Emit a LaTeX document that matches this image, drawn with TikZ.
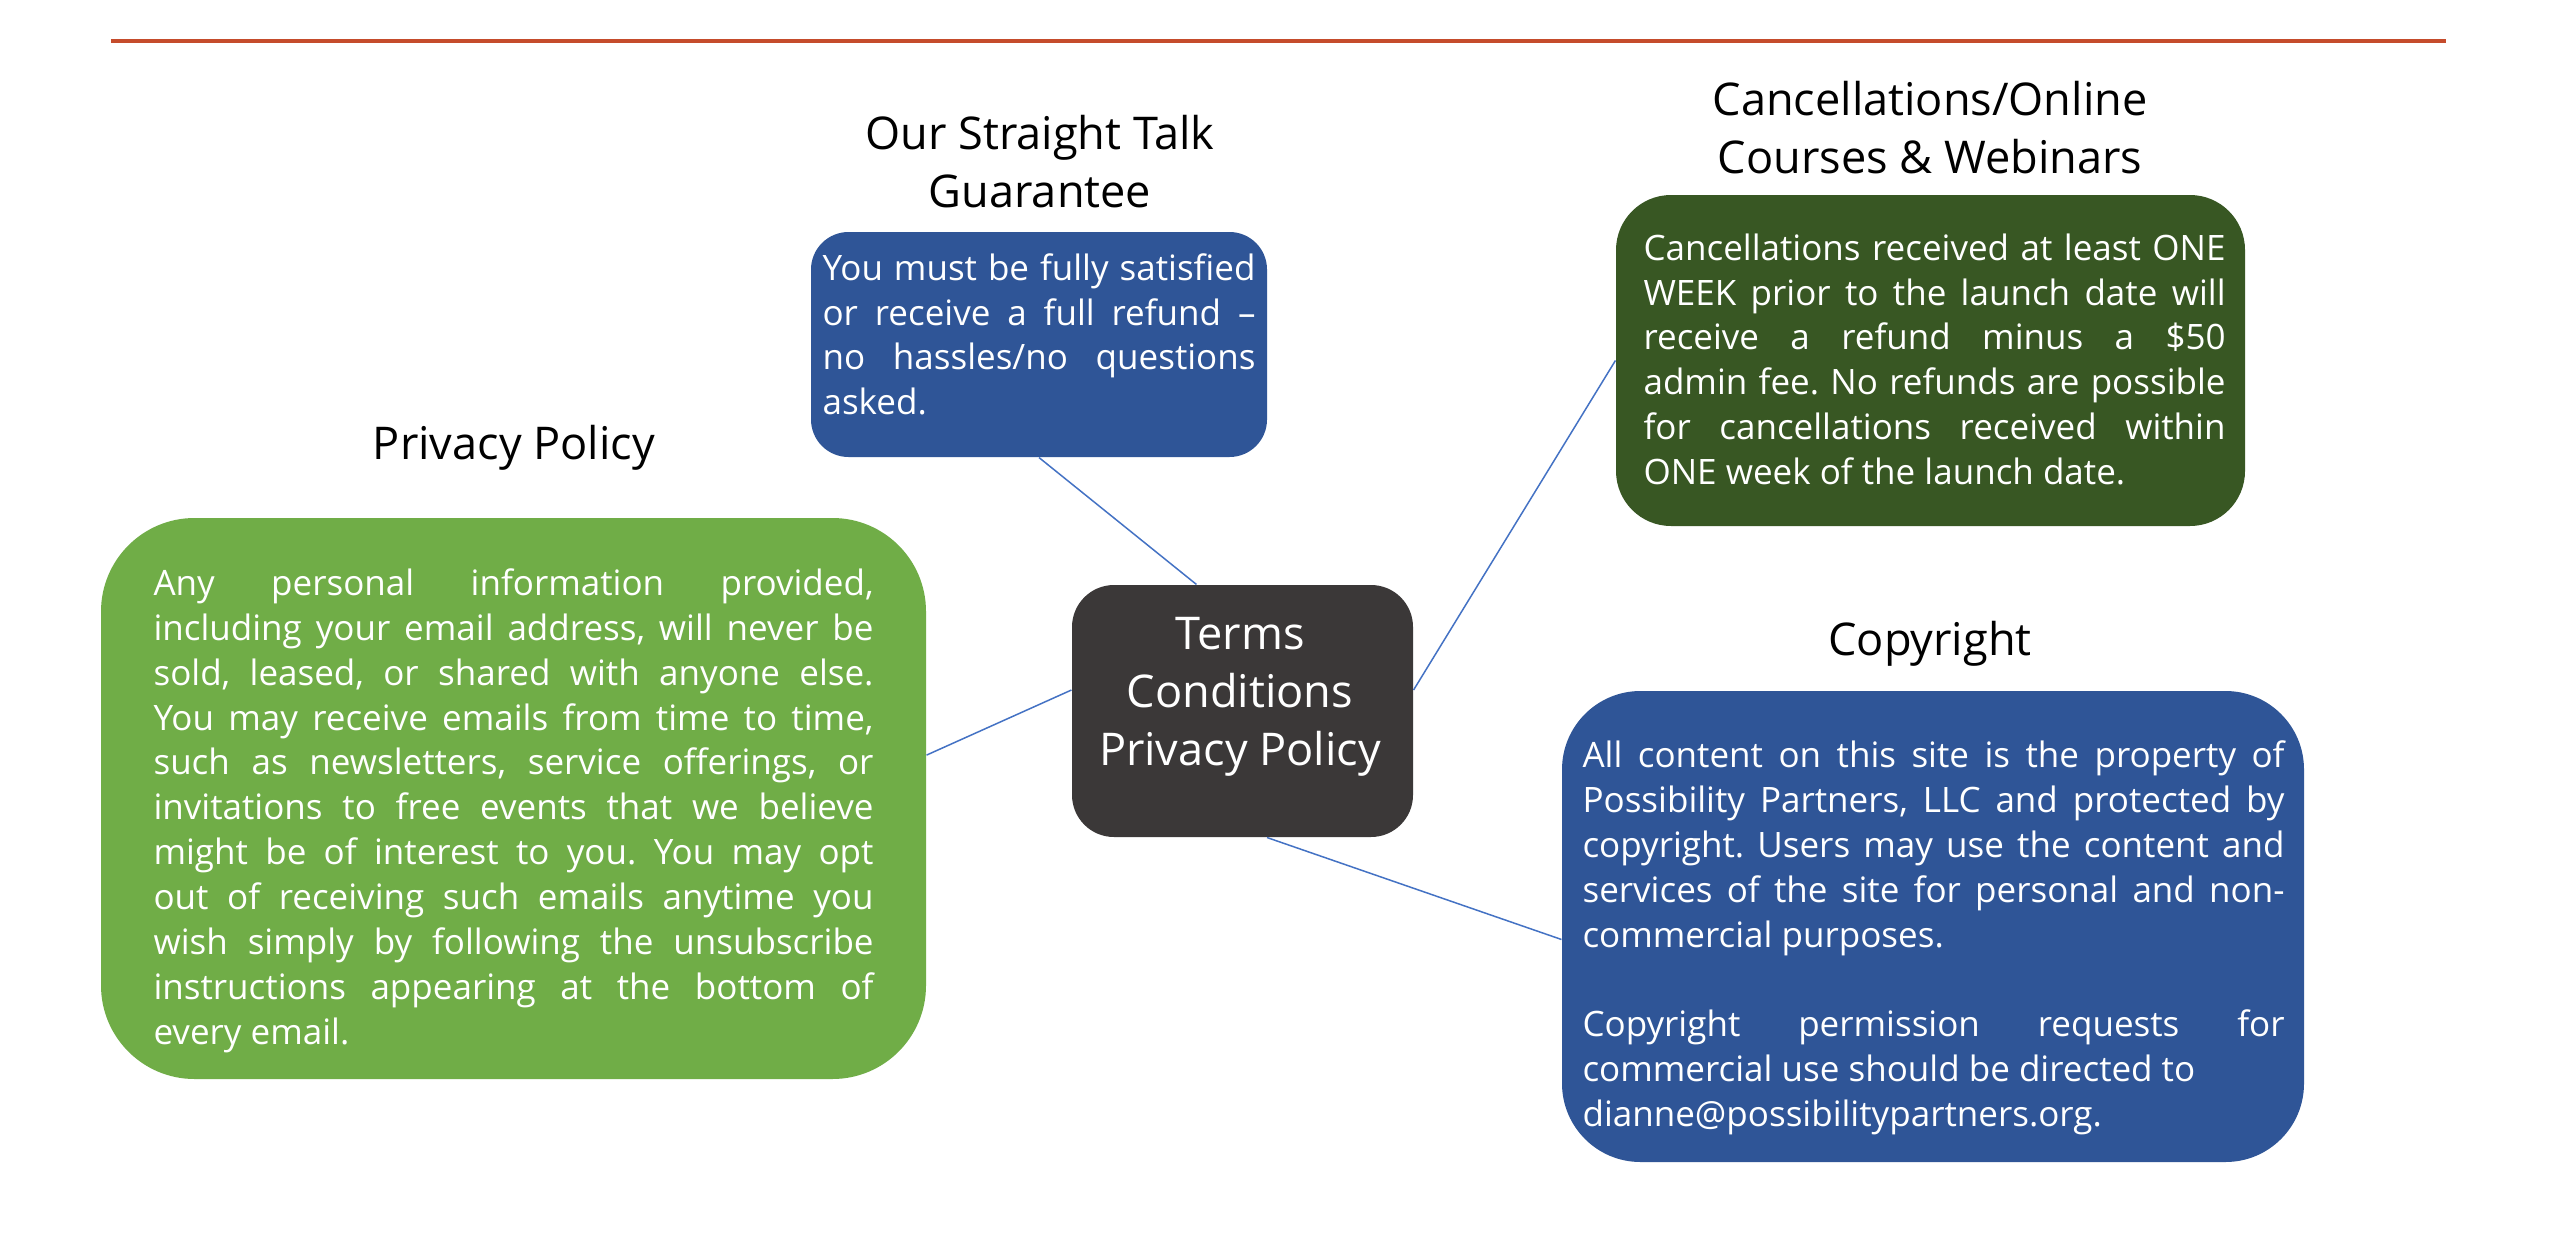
\documentclass[tikz,border=0pt]{standalone}
\usepackage{fontspec}
\setmainfont{Open Sans}
\frenchspacing
\definecolor{rulered}{RGB}{197,76,44}
\definecolor{navy}{RGB}{47,85,151}
\definecolor{leaf}{RGB}{112,173,71}
\definecolor{forest}{RGB}{56,87,35}
\definecolor{slate}{RGB}{59,56,56}
\definecolor{wire}{RGB}{68,114,196}
\tikzset{card/.style={inner sep=0pt,draw=none},link/.style={draw=wire,line width=.54pt},body/.style={anchor=base west,inner sep=0pt,align=justify,text=white,font=\fontsize{12.65}{16.26}\selectfont},head/.style={anchor=base,inner sep=0pt,align=center,font=\fontsize{16.3}{20.6}\selectfont}}

\begin{document}
\begin{tikzpicture}[x=1in,y=-1in]
\path[use as bounding box,fill=white] (0,0) rectangle (12.8,6.255);
\draw[rulered,line width=1.8pt] (0.55500,0.20500) -- (12.23000,0.20500);
\node[head] (guarhead) at (5.20000,1.03500) {Our Straight Talk\\Guarantee};
\node[head] (privhead) at (2.57000,2.29500) {Privacy Policy};
\node[head] (canchead) at (9.65000,0.86500) {Cancellations/Online\\Courses \& Webinars};
\node[head] (copyhead) at (9.65000,3.27500) {Copyright};
\node[card,fill=navy,rounded corners=.1875in,minimum width=2.28in,minimum height=1.125in] (guar) at (5.19500,1.72250) {};
\node[body,text width=2.165in] (guartext) at (4.11000,1.40000) {You must be fully satisfied\linebreak or receive a full refund --\linebreak no hassles/no questions\linebreak asked.};
\node[card,fill=slate,rounded corners=.21in,minimum width=1.705in,minimum height=1.26in] (hub) at (6.21250,3.55500) {};
\node[anchor=base,inner sep=0pt,align=center,text=white,font=\fontsize{16.3}{20.8}\selectfont] (hubtext) at (6.20000,3.82500) {Terms\\Conditions\\Privacy Policy};
\node[card,fill=leaf,rounded corners=.4675in,minimum width=4.125in,minimum height=2.805in] (priv) at (2.56750,3.99250) {};
\node[body,text width=3.60in] (privtext) at (0.76500,2.97500) {Any personal information provided,\linebreak including your email address, will never be\linebreak sold, leased, or shared with anyone else.\linebreak You may receive emails from time to time,\linebreak such as newsletters, service offerings, or\linebreak invitations to free events that we believe\linebreak might be of interest to you. You may opt\linebreak out of receiving such emails anytime you\linebreak wish simply by following the unsubscribe\linebreak instructions appearing at the bottom of\linebreak every email.};
\node[card,fill=forest,rounded corners=.275in,minimum width=3.145in,minimum height=1.655in] (canc) at (9.65250,1.80250) {};
\node[body,text width=2.91in] (canctext) at (8.21500,1.30000) {Cancellations received at least ONE\linebreak WEEK prior to the launch date will\linebreak receive a refund minus a \$50\linebreak admin fee. No refunds are possible\linebreak for cancellations received within\linebreak ONE week of the launch date.};
\node[card,fill=navy,rounded corners=.3925in,minimum width=3.71in,minimum height=2.355in] (copy) at (9.66500,4.63250) {};
\node[body,text width=3.51in] (copytext) at (7.91000,3.83500) {All content on this site is the property of\linebreak Possibility Partners, LLC and protected by\linebreak copyright. Users may use the content and\linebreak services of the site for personal and non-\linebreak commercial purposes.\par\vspace{\baselineskip}Copyright permission requests for\linebreak commercial use should be directed to\\dianne@possibilitypartners.org.};
\draw[link] (guar.south) -- (hub.110);
\draw[link] (priv.6) -- (hub.173);
\draw[link] (hub.7) -- (canc.west);
\draw[link] (hub.281) -- (copy.182);
\end{tikzpicture}
\end{document}
